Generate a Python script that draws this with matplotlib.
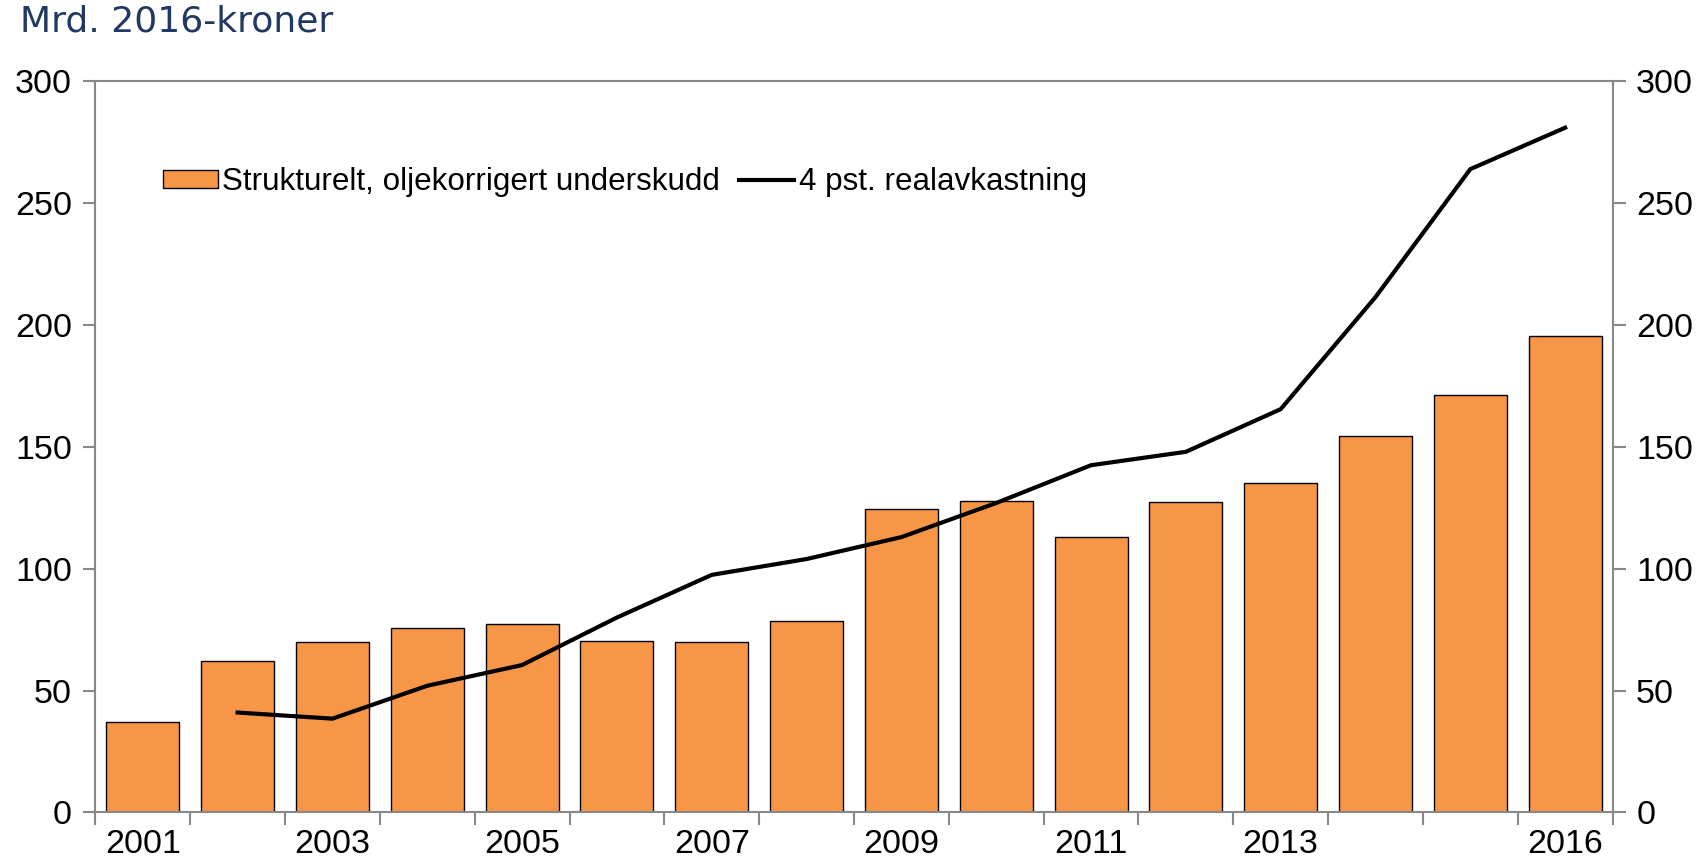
import numpy as np
import matplotlib
matplotlib.use("Agg")
import matplotlib.pyplot as plt
from matplotlib.ticker import FixedLocator

years = list(range(2001, 2017))
underskudd = [37, 62, 70, 75.5, 77.5, 70.5, 70, 78.5, 124.5, 128, 113, 127.5, 135, 154.5, 171.5, 195.5]
line_years = list(range(2002, 2017))
realavkastning = [41, 38.5, 52, 60.5, 80, 97.5, 104, 113, 127, 142.5, 148, 165.5, 211.5, 264, 281]
label_years = [2001, 2003, 2005, 2007, 2009, 2011, 2013, 2016]

plt.rcParams['font.family'] = ['Liberation Sans', 'DejaVu Sans']

fig = plt.figure(figsize=(17.01, 8.67), dpi=100)
ax = fig.add_axes([0.0561, 0.0629, 0.8919, 0.8432])

x = np.arange(len(years))
bars = ax.bar(x, underskudd, width=0.77, color='#F79646', edgecolor='black', linewidth=1.0,
              label='Strukturelt, oljekorrigert underskudd', zorder=2)
lx = [years.index(y) for y in line_years]
line, = ax.plot(lx, realavkastning, color='black', linewidth=3, label='4 pst. realavkastning', zorder=3)

ax.set_xlim(-0.5, len(years) - 0.5)
ax.set_ylim(0, 300)
ax.set_yticks(range(0, 301, 50))

ax.set_xticks([years.index(y) for y in label_years])
ax.set_xticklabels([str(y) for y in label_years])
ax.xaxis.set_minor_locator(FixedLocator(np.arange(-0.5, len(years), 1.0)))
ax.tick_params(axis='x', which='major', length=0, labelsize=24.5, pad=12)
ax.tick_params(axis='x', which='minor', length=9, width=1.5, color='#888888')
ax.tick_params(axis='y', which='major', length=9, width=1.5, color='#888888', labelsize=24.5,
               left=True, right=True, labelleft=True, labelright=True, pad=8)

for s in ax.spines.values():
    s.set_color('#888888')
    s.set_linewidth(1.5)

fig.text(0.012, 0.995, 'Mrd. 2016-kroner', fontsize=26, color='#1F3864',
         family='DejaVu Sans', va='top', ha='left')

ax.legend([bars, line], ['Strukturelt, oljekorrigert underskudd', '4 pst. realavkastning'],
          loc='upper left', bbox_to_anchor=(0.036, 0.90), ncol=2, frameon=False,
          fontsize=22.6, handlelength=1.75, handleheight=0.55, handletextpad=0.15,
          columnspacing=0.6, borderaxespad=0)

fig.savefig('out.png', dpi=100)
